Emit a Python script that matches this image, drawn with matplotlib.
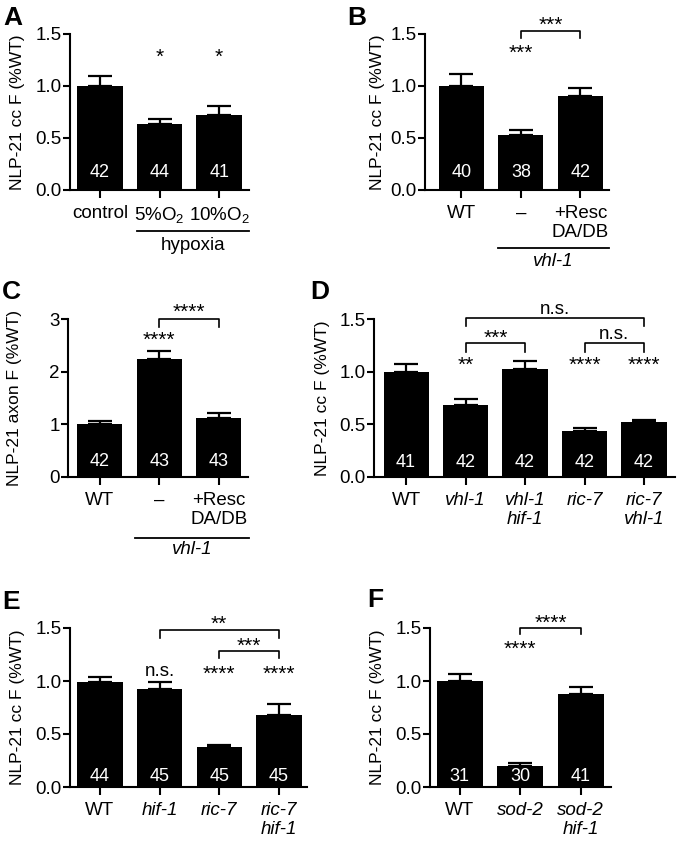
import numpy as np
import matplotlib
matplotlib.use("Agg")
import matplotlib.pyplot as plt
import matplotlib.transforms as mtransforms

plt.rcParams['font.family'] = ['Liberation Sans', 'DejaVu Sans']
plt.rcParams['mathtext.fontset'] = 'custom'
plt.rcParams['mathtext.rm'] = 'Liberation Sans'
plt.rcParams['mathtext.it'] = 'Liberation Sans:italic'

# ---- data ----
a_labels = ["control", "5%O$_2$", "10%O$_2$"]
a_mean = [1.00, 0.63, 0.72]
a_sem = [0.10, 0.05, 0.09]
a_n = [42, 44, 41]

b_labels = ["WT", "\u2013", "+Resc\nDA/DB"]
b_mean = [1.00, 0.53, 0.90]
b_sem = [0.12, 0.05, 0.08]
b_n = [40, 38, 42]

c_labels = ["WT", "\u2013", "+Resc\nDA/DB"]
c_mean = [1.00, 2.24, 1.12]
c_sem = [0.06, 0.16, 0.09]
c_n = [42, 43, 43]

d_labels = ["WT", "vhl-1", "vhl-1\nhif-1", "ric-7", "ric-7\nvhl-1"]
d_mean = [1.00, 0.68, 1.03, 0.44, 0.52]
d_sem = [0.07, 0.06, 0.07, 0.025, 0.02]
d_n = [41, 42, 42, 42, 42]

e_labels = ["WT", "hif-1", "ric-7", "ric-7\nhif-1"]
e_mean = [0.99, 0.92, 0.38, 0.68]
e_sem = [0.05, 0.07, 0.02, 0.10]
e_n = [44, 45, 45, 45]

f_labels = ["WT", "sod-2", "sod-2\nhif-1"]
f_mean = [1.00, 0.20, 0.88]
f_sem = [0.07, 0.025, 0.06]
f_n = [31, 30, 41]

W, H = 677, 841
fig = plt.figure(figsize=(W / 100, H / 100), dpi=100)


def make_ax(l, r, t, b):
    return fig.add_axes([l / W, 1 - b / H, (r - l) / W, (b - t) / H])


def panel(ax, labels, mean, sem, n, xlim, ymax, yticks, yfmt, ylabel, ny, italic=()):
    x = np.arange(len(mean))
    ax.bar(x, mean, width=0.76, color='black', zorder=2)
    ax.errorbar(x, mean, yerr=[np.zeros(len(sem)), sem], fmt='none', ecolor='black',
                elinewidth=1.6, capsize=8.5, capthick=1.6, zorder=1)
    for xi, ni in zip(x, n):
        ax.text(xi, ny, str(ni), color='white', ha='center', va='center', fontsize=13, zorder=3)
    ax.set_xlim(*xlim)
    ax.set_ylim(0, ymax)
    ax.set_yticks(yticks)
    ax.set_yticklabels([yfmt % v for v in yticks])
    ax.set_xticks(x)
    ax.set_xticklabels(labels, linespacing=1.15)
    for i, lbl in enumerate(ax.get_xticklabels()):
        if i in italic:
            lbl.set_style('italic')
    for s in ['top', 'right']:
        ax.spines[s].set_visible(False)
    for s in ['left', 'bottom']:
        ax.spines[s].set_linewidth(1.5)
    ax.tick_params(axis='y', direction='out', length=5, width=1.5, labelsize=13.5, pad=1)
    ax.tick_params(axis='x', direction='out', length=6, width=1.5, labelsize=13.5, pad=5)
    ax.set_ylabel(ylabel, fontsize=12.5)


def stars(ax, x, y, s):
    ax.text(x, y, s, ha='center', va='center', fontsize=15, clip_on=False)


def bracket(ax, x0, x1, ytop, ylow, s, ys, fs=15):
    ax.plot([x0, x0, x1, x1], [ylow, ytop, ytop, ylow], color='black', lw=1.2, clip_on=False)
    ax.text((x0 + x1) / 2, ys, s, ha='center', va='center', fontsize=fs, clip_on=False)


def underline(ax, x0, x1, yl, yt, s, italic=True):
    tr = mtransforms.blended_transform_factory(ax.transData, ax.transAxes)
    ax.plot([x0, x1], [yl, yl], color='black', lw=1.3, transform=tr, clip_on=False)
    ax.text((x0 + x1) / 2, yt, s, transform=tr, ha='center', va='center', fontsize=13.5,
            style='italic' if italic else 'normal')


ylab = "NLP-21 cc F (%WT)"

# A
ax = make_ax(70, 249, 34, 190)
panel(ax, a_labels, a_mean, a_sem, a_n, (-0.5, 2.5), 1.5, [0, 0.5, 1.0, 1.5], "%.1f", ylab, 0.165)
stars(ax, 1, 1.28, "*")
stars(ax, 2, 1.28, "*")
underline(ax, 0.62, 2.5, -0.26, -0.355, "hypoxia", italic=False)
ax.yaxis.set_label_coords(-0.25, 0.5)

# B
ax = make_ax(425, 609, 34, 190)
panel(ax, b_labels, b_mean, b_sem, b_n, (-0.61, 2.48), 1.5, [0, 0.5, 1.0, 1.5], "%.1f", ylab, 0.17)
stars(ax, 1, 1.31, "***")
bracket(ax, 1, 2, 1.53, 1.46, "***", 1.58)
underline(ax, 0.62, 2.48, -0.372, -0.46, "vhl-1")
ax.yaxis.set_label_coords(-0.217, 0.5)

# C
ax = make_ax(68, 248, 319, 477)
panel(ax, c_labels, c_mean, c_sem, c_n, (-0.53, 2.49), 3, [0, 1, 2, 3], "%d",
      "NLP-21 axon F (%WT)", 0.29)
stars(ax, 1, 2.6, "****")
bracket(ax, 1, 2, 3.0, 2.85, "****", 3.13)
underline(ax, 0.6, 2.5, -0.386, -0.46, "vhl-1")
ax.yaxis.set_label_coords(-0.255, 0.5)

# D
ax = make_ax(374, 675, 319, 477)
panel(ax, d_labels, d_mean, d_sem, d_n, (-0.54, 4.52), 1.5, [0, 0.5, 1.0, 1.5], "%.1f", ylab, 0.135,
      italic=(1, 2, 3, 4))
stars(ax, 1, 1.06, "**")
stars(ax, 3, 1.06, "****")
stars(ax, 4, 1.06, "****")
bracket(ax, 1, 2, 1.27, 1.19, "***", 1.32)
bracket(ax, 3, 4, 1.27, 1.19, "n.s.", 1.35, fs=13.5)
bracket(ax, 1, 4, 1.51, 1.43, "n.s.", 1.59, fs=13.5)
ax.yaxis.set_label_coords(-0.146, 0.5)

# E
ax = make_ax(70, 307, 628, 787)
panel(ax, e_labels, e_mean, e_sem, e_n, (-0.5, 3.47), 1.5, [0, 0.5, 1.0, 1.5], "%.1f", ylab, 0.1,
      italic=(1, 2, 3))
ax.text(1, 1.09, "n.s.", ha='center', va='center', fontsize=13.5)
stars(ax, 2, 1.06, "****")
stars(ax, 3, 1.06, "****")
bracket(ax, 2, 3, 1.28, 1.22, "***", 1.33)
bracket(ax, 1, 3, 1.48, 1.41, "**", 1.53)
ax.yaxis.set_label_coords(-0.19, 0.5)

# F
ax = make_ax(430, 611, 628, 787)
panel(ax, f_labels, f_mean, f_sem, f_n, (-0.49, 2.5), 1.5, [0, 0.5, 1.0, 1.5], "%.1f", ylab, 0.1,
      italic=(1, 2))
stars(ax, 1, 1.30, "****")
bracket(ax, 1, 2, 1.5, 1.44, "****", 1.54)
ax.yaxis.set_label_coords(-0.249, 0.5)

# panel letters
for letter, px, py in [("A", 3, 6), ("B", 347, 6), ("C", 2, 280), ("D", 310, 280),
                       ("E", 2, 590), ("F", 367, 588)]:
    fig.text(px / W, 1 - py / H, letter, fontsize=19, fontweight='bold', ha='left', va='top')

fig.savefig("out.png", dpi=100)
